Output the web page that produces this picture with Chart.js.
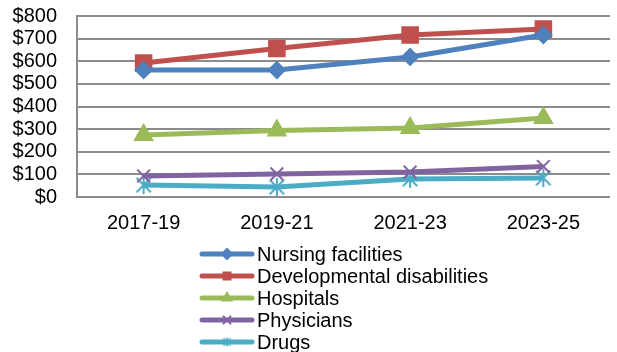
<!DOCTYPE html>
<html>
<head>
<meta charset="utf-8">
<script src="https://cdn.jsdelivr.net/npm/chart.js@4.4.1/dist/chart.umd.min.js"></script>
<style>
  html, body { margin: 0; padding: 0; background: #fff; }
  #wrap { width: 617px; height: 352px; }
</style>
</head>
<body>
<div id="wrap"><canvas id="chart" width="617" height="352"></canvas></div>
<script>
const periods = ['2017-19', '2019-21', '2021-23', '2023-25'];
const yTicks = [0, 100, 200, 300, 400, 500, 600, 700, 800];
const nursingFacilities = [561, 561, 619, 716];
const developmentalDisabilities = [592, 656, 716, 742];
const hospitals = [274, 294, 305, 349];
const physicians = [93, 102, 110, 135];
const drugs = [53, 44, 80, 84];

const seriesNames = ['Nursing facilities', 'Developmental disabilities', 'Hospitals', 'Physicians', 'Drugs'];
const seriesData = [nursingFacilities, developmentalDisabilities, hospitals, physicians, drugs];
const colors = ['#4F81BD', '#C0504D', '#9BBB59', '#8064A2', '#4BACC6'];
const markerSize = [8, 11, 10, 9, 9];

const FONT = { family: '"Liberation Sans", Arial, sans-serif', size: 20 };

// Excel style star: an X with a vertical stroke through it
function makeStar(size, color, lw) {
    const c = document.createElement('canvas');
    c.width = size;
    c.height = size;
    const g = c.getContext('2d');
    const m = size / 2, r = size / 2 - 1;
    g.strokeStyle = color;
    g.lineWidth = lw;
    g.beginPath();
    g.moveTo(m - r * 0.8, m - r * 0.8); g.lineTo(m + r * 0.8, m + r * 0.8);
    g.moveTo(m + r * 0.8, m - r * 0.8); g.lineTo(m - r * 0.8, m + r * 0.8);
    g.moveTo(m, m - r); g.lineTo(m, m + r);
    g.stroke();
    return c;
}
const starBig = makeStar(20, colors[4], 2);
const starSmall = makeStar(11, colors[4], 1.5);

const markers = ['rectRot', 'rect', 'triangle', 'crossRot', starBig];
const legendMarkers = ['rectRot', 'rect', 'triangle', 'crossRot', starSmall];

// legend is drawn by hand so it stacks vertically like the original
const stackedLegend = {
    id: 'stackedLegend',
    afterDraw(chart) {
        const ctx = chart.ctx;
        ctx.save();
        chart.data.datasets.forEach((ds, i) => {
            const y = 254 + i * 22;
            ctx.strokeStyle = ds.borderColor;
            ctx.lineWidth = 5;
            ctx.lineCap = 'round';
            ctx.beginPath();
            ctx.moveTo(202, y);
            ctx.lineTo(252, y);
            ctx.stroke();
            ctx.fillStyle = ds.borderColor;
            ctx.lineWidth = 2;
            Chart.helpers.drawPoint(ctx, { pointStyle: legendMarkers[i], radius: 5, borderWidth: 2 }, 227, y);
            ctx.fillStyle = '#000';
            ctx.font = FONT.size + 'px ' + FONT.family;
            ctx.textBaseline = 'middle';
            ctx.textAlign = 'left';
            ctx.fillText(ds.label, 257, y + 1);
        });
        ctx.restore();
    }
};

const chart = new Chart(document.getElementById('chart').getContext('2d'), {
    type: 'line',
    data: {
        labels: periods,
        datasets: seriesNames.map((name, i) => ({
            label: name,
            data: seriesData[i],
            borderColor: colors[i],
            backgroundColor: colors[i],
            borderWidth: 5,
            pointStyle: markers[i],
            pointRadius: markerSize[i],
            pointBorderWidth: 2,
            pointBorderColor: colors[i],
            pointBackgroundColor: colors[i],
            tension: 0
        }))
    },
    options: {
        responsive: false,
        animation: false,
        layout: { autoPadding: false, padding: { top: 16, right: 7, left: 0, bottom: 0 } },
        plugins: {
            legend: { display: false },
            tooltip: { enabled: false }
        },
        scales: {
            x: {
                offset: true,
                grid: { display: false },
                border: { display: false },
                ticks: { color: '#000', font: FONT, padding: 6 },
                afterFit: (s) => { s.height = 155; s.paddingLeft = 0; s.paddingRight = 0; }
            },
            y: {
                min: 0,
                max: 800,
                afterBuildTicks: (s) => { s.ticks = yTicks.map(v => ({ value: v })); },
                grid: { color: '#8c8c8c', lineWidth: 2, drawTicks: false },
                border: { color: '#8c8c8c', width: 2 },
                ticks: { color: '#000', font: FONT, padding: 20, autoSkip: false, callback: v => '$' + v },
                afterFit: (s) => { s.width = 77; s.paddingTop = 0; s.paddingBottom = 0; }
            }
        }
    },
    plugins: [stackedLegend]
});
</script>
</body>
</html>
